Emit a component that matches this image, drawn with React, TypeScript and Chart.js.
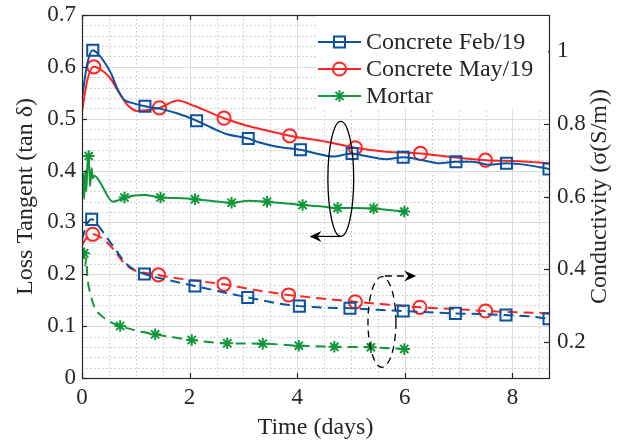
import React, { useEffect, useRef } from 'react';
import { Chart, registerables } from 'chart.js';
Chart.register(...registerables);

const W = 624;
const H = 443;

// ---- axes ----
const xMax = 8.68;
const xTicks = [0, 2, 4, 6, 8];
const xTickLabels = ['0', '2', '4', '6', '8'];
const leftTicks = [0, 0.1, 0.2, 0.3, 0.4, 0.5, 0.6, 0.7];
const leftTickLabels = ['0', '0.1', '0.2', '0.3', '0.4', '0.5', '0.6', '0.7'];
const rightTicks = [0.2, 0.4, 0.6, 0.8, 1.0];
const rightTickLabels = ['0.2', '0.4', '0.6', '0.8', '1'];
const xTitle = 'Time (days)';
const leftTitle = 'Loss Tangent (tan δ)';
const rightTitle = 'Conductivity (σ(S/m))';
const seriesNames = ['Concrete Feb/19', 'Concrete May/19', 'Mortar'];

// ---- Loss tangent (left axis, solid) ----
const febLossDays = [0, 0.1, 0.2, 0.29, 0.41, 0.54, 0.66, 0.79, 0.91, 1.17, 1.5, 1.78, 2.13, 2.4, 2.7, 3.09, 3.3, 3.63, 4.06, 4.35, 4.66, 5.02, 5.28, 5.65, 5.97, 6.33, 6.64, 6.95, 7.26, 7.57, 7.89, 8.25, 8.68];
const febLossVals = [0.54, 0.607, 0.632, 0.626, 0.61, 0.5875, 0.557, 0.536, 0.531, 0.524, 0.518, 0.51, 0.496, 0.483, 0.47, 0.462, 0.454, 0.446, 0.44, 0.433, 0.427, 0.433, 0.428, 0.422, 0.4256, 0.42, 0.414, 0.417, 0.417, 0.411, 0.414, 0.411, 0.403];
const febLossMarks = [2, 9, 12, 15, 18, 21, 24, 27, 30, 32];

const mayLossDays = [0, 0.1, 0.22, 0.41, 0.54, 0.66, 0.85, 1.03, 1.44, 1.78, 2.09, 2.64, 3.02, 3.3, 3.86, 4.54, 5.08, 5.65, 6.29, 6.89, 7.5, 8.13, 8.68];
const mayLossVals = [0.513, 0.575, 0.6, 0.59, 0.576, 0.555, 0.526, 0.515, 0.521, 0.535, 0.5245, 0.501, 0.488, 0.4806, 0.467, 0.4557, 0.444, 0.4364, 0.433, 0.4256, 0.42, 0.418, 0.414];
const mayLossMarks = [2, 8, 11, 14, 16, 18, 20];

const mortarLossDays = [0, 0.02, 0.04, 0.06, 0.08, 0.1, 0.125, 0.15, 0.18, 0.2, 0.23, 0.35, 0.48, 0.57, 0.68, 0.79, 0.98, 1.16, 1.46, 1.8, 2.1, 2.45, 2.78, 3.1, 3.44, 3.75, 4.1, 4.42, 4.75, 5.1, 5.42, 5.7, 5.99];
const mortarLossVals = [0.36, 0.395, 0.345, 0.4, 0.36, 0.41, 0.428, 0.37, 0.405, 0.385, 0.39, 0.375, 0.35, 0.34, 0.343, 0.348, 0.352, 0.353, 0.348, 0.347, 0.3446, 0.341, 0.338, 0.342, 0.34, 0.337, 0.3336, 0.331, 0.328, 0.328, 0.327, 0.324, 0.321];
const mortarLossMarks = [6, 15, 18, 20, 22, 24, 26, 28, 30, 32];

// ---- Conductivity (right axis, dashed) ----
const febCondDays = [0, 0.08, 0.18, 0.3, 0.54, 0.85, 1.16, 1.6, 2.1, 2.6, 3.08, 3.63, 4.04, 4.5, 4.98, 5.5, 5.97, 6.45, 6.94, 7.4, 7.88, 8.3, 8.68];
const febCondVals = [0.48, 0.52, 0.537, 0.52, 0.471, 0.411, 0.3865, 0.37, 0.3535, 0.337, 0.322, 0.306, 0.298, 0.294, 0.292, 0.288, 0.2846, 0.281, 0.278, 0.276, 0.2736, 0.27, 0.263];
const febCondMarks = [2, 6, 8, 10, 12, 14, 16, 18, 20, 22];

const mayCondDays = [0, 0.08, 0.2, 0.35, 0.54, 0.85, 1.42, 2.0, 2.64, 3.2, 3.84, 4.45, 5.08, 5.7, 6.28, 6.9, 7.5, 8.1, 8.68];
const mayCondVals = [0.466, 0.485, 0.496, 0.487, 0.462, 0.407, 0.384, 0.37, 0.358, 0.343, 0.3287, 0.319, 0.31, 0.302, 0.2948, 0.29, 0.2846, 0.281, 0.278];
const mayCondMarks = [2, 6, 8, 10, 12, 14, 16];

const mortarCondDays = [0, 0.02, 0.04, 0.06, 0.08, 0.1, 0.16, 0.23, 0.42, 0.71, 1.0, 1.36, 1.7, 2.04, 2.7, 3.36, 4.03, 4.69, 5.37, 5.99];
const mortarCondVals = [0.42, 0.46, 0.4435, 0.41, 0.43, 0.379, 0.33, 0.296, 0.2645, 0.2433, 0.231, 0.2204, 0.212, 0.2047, 0.1956, 0.1945, 0.189, 0.186, 0.1846, 0.18];
const mortarCondMarks = [2, 9, 11, 13, 14, 15, 16, 17, 18, 19];

// ---- annotation ellipses (data units) ----
const lossEllipse = { cx: 4.81, cy: 0.384, rx: 0.24, ry: 0.111, arrowTo: 4.23 }; // left axis
const condEllipse = { cx: 5.575, cy: 0.2543, rx: 0.26, ry: 0.1248, arrowFrom: 5.63, arrowTo: 6.21, arrowY: 0.381 }; // right axis

const BLUE = '#0b52a0';
const RED = '#ff2424';
const GREEN = '#12983a';
const AXIS = '#262626';
const FONT = '"Liberation Serif", "Times New Roman", serif';

const colors = [BLUE, RED, GREEN];
const styles = ['rect', 'circle', 'star'];
const radii = [7.8, 6.6, 5.8];

function pts(days: number[], vals: number[]) {
  return days.map((d, i) => ({ x: d, y: vals[i] }));
}

function makeDs(days: number[], vals: number[], marks: number[], k: number, axis: string, dashed: boolean) {
  const set = new Set(marks);
  return {
    label: seriesNames[k] + (dashed ? ' σ' : ''),
    data: pts(days, vals),
    yAxisID: axis,
    borderColor: colors[k],
    borderWidth: 2,
    borderDash: dashed ? [10, 6] : [],
    cubicInterpolationMode: 'monotone',
    pointStyle: styles[k],
    pointRadius: (c: any) => (set.has(c.dataIndex) ? radii[k] : 0),
    pointHoverRadius: 0,
    pointBorderColor: colors[k],
    pointBackgroundColor: 'rgba(0,0,0,0)',
    pointBorderWidth: 2,
    fill: false,
  };
}

function arrowHead(ctx: CanvasRenderingContext2D, x0: number, y: number, x1: number) {
  const dir = Math.sign(x1 - x0);
  const len = 12;
  const hw = 5.5;
  ctx.beginPath();
  ctx.moveTo(x0, y);
  ctx.lineTo(x1 - dir * 4, y);
  ctx.stroke();
  ctx.beginPath();
  ctx.moveTo(x1, y);
  ctx.lineTo(x1 - dir * len, y - hw);
  ctx.lineTo(x1 - dir * (len - 4), y);
  ctx.lineTo(x1 - dir * len, y + hw);
  ctx.closePath();
  ctx.fill();
}

function drawMarker(ctx: CanvasRenderingContext2D, style: string, x: number, y: number, r: number) {
  ctx.beginPath();
  if (style === 'rect') {
    const s = r * Math.SQRT1_2;
    ctx.rect(x - s, y - s, 2 * s, 2 * s);
  } else if (style === 'circle') {
    ctx.arc(x, y, r, 0, Math.PI * 2);
  } else {
    for (let i = 0; i < 4; i++) {
      const a = (i * Math.PI) / 4;
      ctx.moveTo(x - Math.cos(a) * r, y - Math.sin(a) * r);
      ctx.lineTo(x + Math.cos(a) * r, y + Math.sin(a) * r);
    }
  }
  ctx.stroke();
}

const decor = {
  id: 'decor',
  beforeDatasetsDraw(chart: any) {
    const { ctx, chartArea: a, scales } = chart;
    const x = scales.x;
    const yl = scales.yL;
    ctx.save();
    ctx.lineWidth = 1;
    // minor grid (dotted)
    ctx.strokeStyle = '#c4c4c4';
    ctx.setLineDash([1.5, 2.5]);
    for (let k = 1; k * 0.5 < xMax; k++) {
      if (k % 4 === 0) continue;
      const px = Math.round(x.getPixelForValue(k * 0.5)) + 0.5;
      ctx.beginPath(); ctx.moveTo(px, a.top); ctx.lineTo(px, a.bottom); ctx.stroke();
    }
    for (let k = 1; k < 35; k++) {
      if (k % 5 === 0) continue;
      const py = Math.round(yl.getPixelForValue(k * 0.02)) + 0.5;
      ctx.beginPath(); ctx.moveTo(a.left, py); ctx.lineTo(a.right, py); ctx.stroke();
    }
    // major grid
    ctx.setLineDash([]);
    ctx.strokeStyle = '#dcdcdc';
    xTicks.forEach((v) => {
      const px = Math.round(x.getPixelForValue(v)) + 0.5;
      ctx.beginPath(); ctx.moveTo(px, a.top); ctx.lineTo(px, a.bottom); ctx.stroke();
    });
    leftTicks.forEach((v) => {
      const py = Math.round(yl.getPixelForValue(v)) + 0.5;
      ctx.beginPath(); ctx.moveTo(a.left, py); ctx.lineTo(a.right, py); ctx.stroke();
    });
    ctx.restore();
  },
  afterDatasetsDraw(chart: any) {
    const { ctx, chartArea: a, scales } = chart;
    const x = scales.x;
    const yl = scales.yL;
    const yr = scales.yR;
    ctx.save();
    // box
    ctx.strokeStyle = AXIS;
    ctx.lineWidth = 1.2;
    ctx.setLineDash([]);
    ctx.strokeRect(Math.round(a.left) + 0.5, Math.round(a.top) + 0.5, Math.round(a.right - a.left), Math.round(a.bottom - a.top));
    const tl = 5;
    xTicks.forEach((v) => {
      const px = Math.round(x.getPixelForValue(v)) + 0.5;
      ctx.beginPath();
      ctx.moveTo(px, a.bottom); ctx.lineTo(px, a.bottom - tl);
      ctx.moveTo(px, a.top); ctx.lineTo(px, a.top + tl);
      ctx.stroke();
    });
    leftTicks.forEach((v) => {
      const py = Math.round(yl.getPixelForValue(v)) + 0.5;
      ctx.beginPath(); ctx.moveTo(a.left, py); ctx.lineTo(a.left + tl, py); ctx.stroke();
    });
    rightTicks.forEach((v) => {
      const py = Math.round(yr.getPixelForValue(v)) + 0.5;
      ctx.beginPath(); ctx.moveTo(a.right, py); ctx.lineTo(a.right - tl, py); ctx.stroke();
    });

    // right axis title (reads bottom-to-top, like the left one)
    ctx.save();
    ctx.translate(a.right + 51, (a.top + a.bottom) / 2);
    ctx.rotate(-Math.PI / 2);
    ctx.font = `24px ${FONT}`;
    ctx.fillStyle = AXIS;
    ctx.textAlign = 'center';
    ctx.textBaseline = 'middle';
    ctx.fillText(rightTitle, 0, 0);
    ctx.restore();

    // annotations
    ctx.strokeStyle = '#000';
    ctx.fillStyle = '#000';
    ctx.lineWidth = 1.3;
    {
      const e = lossEllipse;
      const cx = x.getPixelForValue(e.cx);
      const cy = yl.getPixelForValue(e.cy);
      const rx = x.getPixelForValue(e.cx + e.rx) - cx;
      const ry = cy - yl.getPixelForValue(e.cy + e.ry);
      ctx.beginPath(); ctx.ellipse(cx, cy, rx, ry, 0, 0, Math.PI * 2); ctx.stroke();
      arrowHead(ctx, cx, cy + ry, x.getPixelForValue(e.arrowTo));
    }
    {
      const e = condEllipse;
      const cx = x.getPixelForValue(e.cx);
      const cy = yr.getPixelForValue(e.cy);
      const rx = x.getPixelForValue(e.cx + e.rx) - cx;
      const ry = cy - yr.getPixelForValue(e.cy + e.ry);
      ctx.setLineDash([7, 5]);
      ctx.beginPath(); ctx.ellipse(cx, cy, rx, ry, 0, 0, Math.PI * 2); ctx.stroke();
      const ay = yr.getPixelForValue(e.arrowY);
      ctx.beginPath(); ctx.moveTo(x.getPixelForValue(e.arrowFrom), ay); ctx.lineTo(x.getPixelForValue(e.arrowTo) - 6, ay); ctx.stroke();
      ctx.setLineDash([]);
      arrowHead(ctx, x.getPixelForValue(e.arrowTo) - 6, ay, x.getPixelForValue(e.arrowTo));
    }

    // legend
    const bx = a.right - 233;
    const by = a.top + 1;
    ctx.fillStyle = '#fff';
    ctx.fillRect(bx, by, 232, 93);
    ctx.font = `24px ${FONT}`;
    ctx.textBaseline = 'middle';
    ctx.textAlign = 'left';
    seriesNames.forEach((name, i) => {
      const ry = by + 26 + i * 27;
      ctx.strokeStyle = colors[i];
      ctx.lineWidth = 2;
      ctx.beginPath(); ctx.moveTo(bx + 2, ry); ctx.lineTo(bx + 45, ry); ctx.stroke();
      drawMarker(ctx, styles[i], bx + 23.5, ry, radii[i]);
      ctx.fillStyle = AXIS;
      ctx.fillText(name, bx + 50, ry + 1);
    });
    ctx.restore();
  },
};

export default function App() {
  const ref = useRef<HTMLCanvasElement>(null);
  useEffect(() => {
    Chart.defaults.font.family = FONT;
    const tickFont = { size: 23, family: FONT };
    const titleFont = { size: 24, family: FONT };
    const noPadY = (w: number) => (s: any) => { s.width = w; s.paddingTop = 0; s.paddingBottom = 0; };
    const chart = new Chart(ref.current as HTMLCanvasElement, {
      type: 'line',
      data: {
        datasets: [
          makeDs(febLossDays, febLossVals, febLossMarks, 0, 'yL', false),
          makeDs(mayLossDays, mayLossVals, mayLossMarks, 1, 'yL', false),
          makeDs(mortarLossDays, mortarLossVals, mortarLossMarks, 2, 'yL', false),
          makeDs(febCondDays, febCondVals, febCondMarks, 0, 'yR', true),
          makeDs(mayCondDays, mayCondVals, mayCondMarks, 1, 'yR', true),
          makeDs(mortarCondDays, mortarCondVals, mortarCondMarks, 2, 'yR', true),
        ] as any,
      },
      options: {
        animation: false,
        responsive: false,
        maintainAspectRatio: false,
        devicePixelRatio: 1,
        layout: { padding: { top: 15, left: 0, right: 0, bottom: 0 } },
        plugins: { legend: { display: false }, tooltip: { enabled: false } },
        events: [],
        scales: {
          x: {
            type: 'linear',
            position: 'bottom',
            min: 0,
            max: xMax,
            afterBuildTicks: (s: any) => { s.ticks = xTicks.map((v) => ({ value: v })); },
            afterFit: (s: any) => { s.height = 65; s.paddingLeft = 0; s.paddingRight = 0; },
            ticks: {
              callback: (_v: any, i: number) => xTickLabels[i],
              padding: 6,
              color: AXIS,
              font: tickFont,
              maxRotation: 0,
              autoSkip: false,
            },
            grid: { display: false, drawTicks: false },
            border: { display: false },
            title: { display: true, text: xTitle, color: AXIS, font: titleFont, padding: { top: 0, bottom: 1 } },
          },
          yL: {
            type: 'linear',
            position: 'left',
            min: 0,
            max: 0.7,
            afterBuildTicks: (s: any) => { s.ticks = leftTicks.map((v) => ({ value: v })); },
            afterFit: noPadY(82),
            ticks: { callback: (_v: any, i: number) => leftTickLabels[i], padding: 6, color: AXIS, font: tickFont, autoSkip: false },
            grid: { display: false, drawTicks: false },
            border: { display: false },
            title: { display: true, text: leftTitle, color: AXIS, font: titleFont, padding: { top: 11, bottom: 0 } },
          },
          yR: {
            type: 'linear',
            position: 'right',
            min: 0.1,
            max: 1.1,
            afterBuildTicks: (s: any) => { s.ticks = rightTicks.map((v) => ({ value: v })); },
            afterFit: noPadY(75),
            ticks: { callback: (_v: any, i: number) => rightTickLabels[i], padding: 8, color: AXIS, font: tickFont, autoSkip: false },
            grid: { display: false, drawTicks: false },
            border: { display: false },
            title: { display: false, text: rightTitle },
          },
        },
      } as any,
      plugins: [decor],
    });
    return () => chart.destroy();
  }, []);
  return (
    <div style={{ position: 'fixed', left: 0, top: 0, width: W, height: H, background: '#fff' }}>
      <canvas ref={ref} width={W} height={H} style={{ width: W, height: H, display: 'block' }} />
    </div>
  );
}
